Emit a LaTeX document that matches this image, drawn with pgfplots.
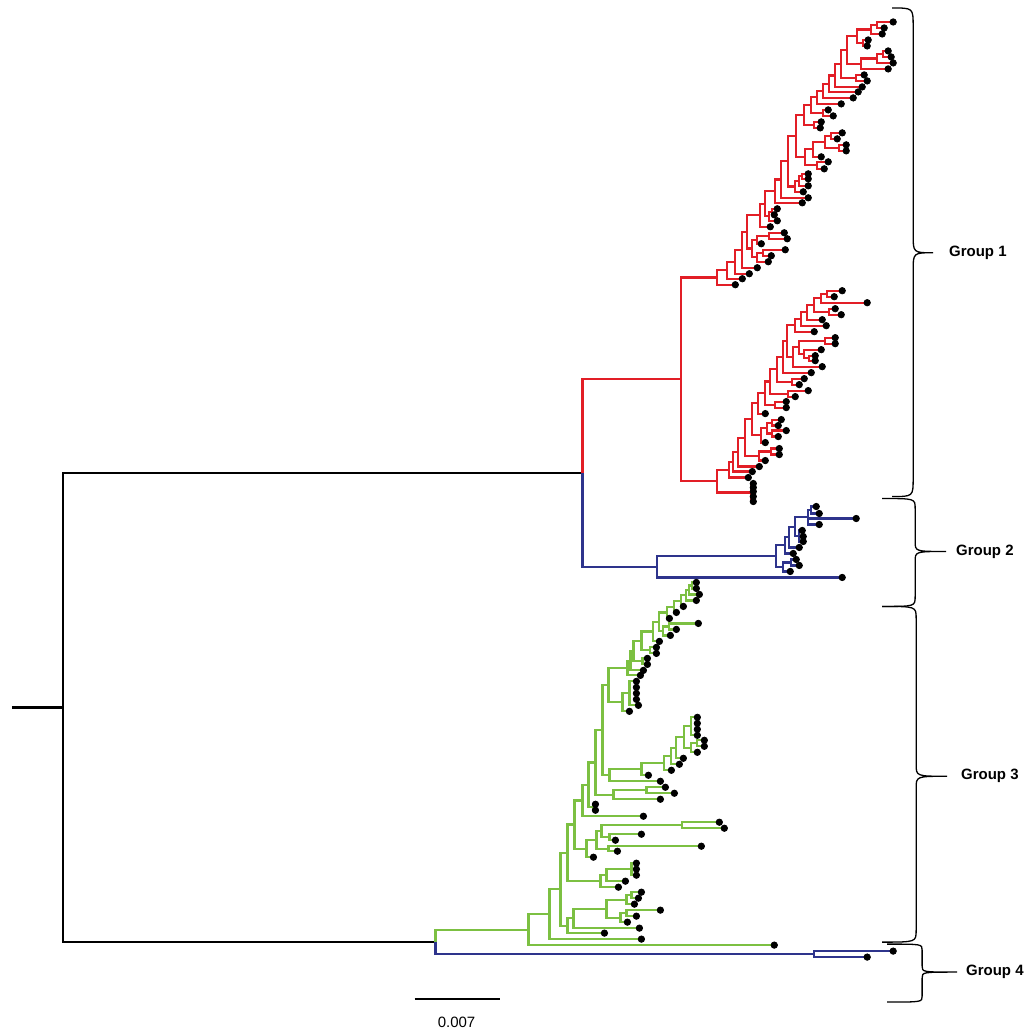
\documentclass[border=0pt]{standalone}
\usepackage{fontspec}
\setmainfont{Liberation Sans}
\usepackage{pgfplots}
\pgfplotsset{compat=1.18}
\definecolor{tred}{RGB}{226,30,38}
\definecolor{tblue}{RGB}{46,52,140}
\definecolor{tgreen}{RGB}{124,192,66}
\begin{document}
\begin{tikzpicture}
\begin{axis}[
  scale only axis, width=512pt, height=517pt,
  xmin=0, xmax=1024, ymin=0, ymax=1034, y dir=reverse,
  axis lines=none, clip=false, unbounded coords=jump,
]
\path (rel axis cs:0,0) rectangle (rel axis cs:1,1);
% ---------- black root ----------
\addplot[black, line width=1.15pt] table {
x y
12 708.15
63 708.15
nan nan
583 473.5
63 473.5
63 942.8
436 942.8
};
% ---------- red: group 1 ----------
\addplot[tred, line width=1.1pt] table {
x y
682 379.65
583 379.65
583 473.5
nan nan
718 277.75
682 277.75
682 481.55
718 481.55
nan nan
894 22
878 22
878 28
885 28
nan nan
878 25
872 25
872 34
883 34
nan nan
869 40
864 40
864 46
868 46
nan nan
872 29.5
858 29.5
858 43
864 43
nan nan
889 51
884 51
884 57
892 57
nan nan
884 54
878 54
878 63
894 63
nan nan
878 58.5
862 58.5
862 69
889 69
nan nan
858 36.25
848 36.25
848 63.75
862 63.75
nan nan
865 75
857 75
857 81
868 81
nan nan
848 50
842 50
842 78
857 78
nan nan
842 64
836 64
836 87
863 87
nan nan
836 75.5
830 75.5
830 92
859 92
nan nan
830 83.75
824 83.75
824 98
854 98
nan nan
824 90.9
818 90.9
818 104
842 104
nan nan
829 110
824 110
824 116
834 116
nan nan
818 97.45
812 97.45
812 113
824 113
nan nan
822 122
815 122
815 128
821 128
nan nan
812 105.2
805 105.2
805 125
815 125
nan nan
843 133
832 133
832 139
838 139
nan nan
847 145
840 145
840 151
847 151
nan nan
832 136
826 136
826 148
840 148
nan nan
826 142
814 142
814 157
822 157
nan nan
829 162
818 162
818 169
825 169
nan nan
814 149.5
806 149.5
806 165.5
818 165.5
nan nan
805 115.1
797 115.1
797 157.5
806 157.5
nan nan
809 174
803 174
803 179
809 179
nan nan
803 176.5
800 176.5
800 186
809 186
nan nan
800 181.25
796 181.25
796 192
804 192
nan nan
797 136.3
789 136.3
789 186.6
796 186.6
nan nan
789 161.5
782 161.5
782 198
809 198
nan nan
782 179.7
776 179.7
776 203
803 203
nan nan
778 209
773 209
773 215
775 215
nan nan
773 212
770 212
770 221
778 221
nan nan
776 191.4
766 191.4
766 216.5
770 216.5
nan nan
766 204
761 204
761 227
771 227
nan nan
785 233
770 233
770 239
788 239
nan nan
770 236
758 236
758 244
762 244
nan nan
786 250
764 250
764 256
772 256
nan nan
764 253
758 253
758 262
769 262
nan nan
758 240
753 240
753 257.5
758 257.5
nan nan
761 215.5
748 215.5
748 248.75
753 248.75
nan nan
748 232.1
743 232.1
743 268
758 268
nan nan
743 250
736 250
736 274
750 274
nan nan
736 262
728 262
728 279
743 279
nan nan
728 270.5
718 270.5
718 285
736 285
nan nan
843 291
828 291
828 297
835 297
nan nan
828 294
822 294
822 303
868 303
nan nan
836 309
830 309
830 315
842 315
nan nan
822 298.5
815 298.5
815 312
830 312
nan nan
815 305.25
808 305.25
808 320
823 320
nan nan
808 312.6
802 312.6
802 326
827 326
nan nan
802 319.3
796 319.3
796 332
815 332
nan nan
836 338
826 338
826 344
836 344
nan nan
816 356
810 356
810 361
816 361
nan nan
822 350
805 350
805 358.5
810 358.5
nan nan
826 341
800 341
800 354.25
805 354.25
nan nan
800 347.6
794 347.6
794 367
823 367
nan nan
796 325.65
788 325.65
788 357.3
794 357.3
nan nan
788 341.5
784 341.5
784 373
812 373
nan nan
805 379
793 379
793 385
800 385
nan nan
784 357.25
778 357.25
778 382
793 382
nan nan
809 391
789 391
789 397
796 397
nan nan
778 369.6
771 369.6
771 394
789 394
nan nan
787 402
776 402
776 408
787 408
nan nan
771 381.8
766 381.8
766 405
776 405
nan nan
766 393.4
759 393.4
759 414
766 414
nan nan
782 420
773 420
773 426
779 426
nan nan
787 431
773 431
773 437
779 437
nan nan
773 423
768 423
768 434
773 434
nan nan
768 428.5
762 428.5
762 443
766 443
nan nan
759 403.7
753 403.7
753 435.75
762 435.75
nan nan
780 449
772 449
772 455
780 455
nan nan
772 452
760 452
760 461
766 461
nan nan
753 419.7
746 419.7
746 456.5
760 456.5
nan nan
746 438.1
739 438.1
739 467
760 467
nan nan
739 452.55
734 452.55
734 472
753 472
nan nan
734 462.3
730 462.3
730 478
749 478
nan nan
754 484
752 484
752 502
754 502
nan nan
730 470.1
718 470.1
718 493
752 493
};
% ---------- blue: group 2 and group 4 ----------
\addplot[tblue, line width=1.1pt] table {
x y
583 473.5
583 567.3
658 567.3
nan nan
777 556.65
658 556.65
658 578
843 578
nan nan
817 507
812 507
812 514
820 514
nan nan
812 510.5
809 510.5
809 525
820 525
nan nan
809 519
857 519
nan nan
803 531
800 531
800 542
804 542
nan nan
809 517.75
796 517.75
796 536.5
800 536.5
nan nan
796 527.1
790 527.1
790 548
800 548
nan nan
790 537.6
786 537.6
786 554
794 554
nan nan
797 560
792 560
792 566
800 566
nan nan
792 563
784 563
784 572
791 572
nan nan
786 545.8
777 545.8
777 567.5
784 567.5
nan nan
436 942.8
436 955
815 955
nan nan
894 952
815 952
815 958
868 958
};
% ---------- green: group 3 ----------
\addplot[tgreen, line width=1.1pt] table {
x y
529 930.55
436 930.55
436 942.8
nan nan
550 915.1
529 915.1
529 946
775 946
nan nan
561 890.15
550 890.15
550 940
642 940
nan nan
568 853.7
561 853.7
561 926.6
568 926.6
nan nan
574 919.25
568 919.25
568 934
605 934
nan nan
607 909.5
574 909.5
574 929
640 929
nan nan
627 900.5
607 900.5
607 918.5
621 918.5
nan nan
627 914
621 914
621 923
628 923
nan nan
661 911
627 911
627 917
637 917
nan nan
632 896
627 896
627 905
635 905
nan nan
642 893
632 893
632 899
639 899
nan nan
575 825.35
568 825.35
568 882
601 882
nan nan
607 876
601 876
601 888
619 888
nan nan
632 870
607 870
607 882
626 882
nan nan
637 864
632 864
632 876
637 876
nan nan
583 801.3
575 801.3
575 849.4
587 849.4
nan nan
597 840.75
587 840.75
587 858
594 858
nan nan
602 832
597 832
597 849.5
609 849.5
nan nan
702 847
609 847
609 852
618 852
nan nan
683 826
602 826
602 838
610 838
nan nan
642 835
610 835
610 841
616 841
nan nan
720 823
683 823
683 829
725 829
nan nan
589 785.6
583 785.6
583 817
644 817
nan nan
596 763.2
589 763.2
589 808
594 808
nan nan
596 805
594 805
594 811
596 811
nan nan
603 730.9
596 730.9
596 795.5
614 795.5
nan nan
647 791
614 791
614 800
661 800
nan nan
666 788
647 788
647 794
675 794
nan nan
609 685.85
603 685.85
603 775.95
610 775.95
nan nan
642 769.9
610 769.9
610 782
661 782
nan nan
665 763.85
642 763.85
642 776
649 776
nan nan
672 756.7
665 756.7
665 771
672 771
nan nan
677 748.4
672 748.4
672 765
680 765
nan nan
685 737.75
677 737.75
677 759
684 759
nan nan
692 727
685 727
685 748.5
692 748.5
nan nan
698 744
692 744
692 753
698 753
nan nan
705 741
698 741
698 747
705 747
nan nan
698 718
692 718
692 736
698 736
nan nan
628 668.7
609 668.7
609 703
623 703
nan nan
630 694
623 694
623 712
630 712
nan nan
637 682
630 682
630 706
639 706
nan nan
631 661.4
628 661.4
628 676
641 676
nan nan
634 651.8
631 651.8
631 671
644 671
nan nan
642 641.6
634 641.6
634 662
643 662
nan nan
648 659
643 659
643 665
648 665
nan nan
654 632.15
642 632.15
642 651
651 651
nan nan
657 648
651 648
651 654
657 654
nan nan
660 622.3
654 622.3
654 642
660 642
nan nan
668 613.1
660 613.1
660 631.5
664 631.5
nan nan
670 627
664 627
664 636
671 636
nan nan
699 624
670 624
670 630
677 630
nan nan
675 607.2
668 607.2
668 619
670 619
nan nan
682 601.4
675 601.4
675 613
677 613
nan nan
687 595.75
682 595.75
682 607
684 607
nan nan
690 590.5
687 590.5
687 601
697 601
nan nan
693 586
690 586
690 595
700 595
nan nan
697 583
693 583
693 589
697 589
};
% ---------- leaf tips ----------
\addplot[only marks, mark=*, mark size=1.6pt, black] table {
x y
894 22
885 28
883 34
869 40
868 46
889 51
892 57
894 63
889 69
865 75
868 81
863 87
859 92
854 98
842 104
829 110
834 116
822 122
821 128
843 133
838 139
847 145
847 151
822 157
829 162
825 169
809 174
809 179
809 186
804 192
809 198
803 203
778 209
775 215
778 221
771 227
785 233
788 239
762 244
786 250
772 256
769 262
758 268
750 274
743 279
736 285
843 291
835 297
868 303
836 309
842 315
823 320
827 326
815 332
836 338
836 344
822 350
816 356
816 361
823 367
812 373
805 379
800 385
809 391
796 397
787 402
787 408
766 414
782 420
779 426
787 431
779 437
766 443
780 449
780 455
766 461
760 467
753 472
749 478
754 484
754 488
754 492
754 497
754 502
817 507
820 514
857 519
820 525
803 531
804 537
804 542
800 548
794 554
797 560
800 566
791 572
843 578
697 583
697 589
700 595
697 601
684 607
677 613
670 619
699 624
677 630
671 636
660 642
657 648
657 654
648 659
648 665
644 671
641 676
637 682
637 688
637 694
637 700
639 706
630 712
698 718
698 724
698 730
698 736
705 741
705 747
698 753
684 759
680 765
672 771
649 776
661 782
666 788
675 794
661 800
596 805
596 811
644 817
720 823
725 829
642 835
616 841
702 847
618 852
594 858
637 864
637 870
637 876
626 882
619 888
642 893
639 899
635 905
661 911
637 917
628 923
640 929
605 934
642 940
775 946
894 952
868 958
};
% ---------- scale bar ----------
\addplot[black, line width=0.9pt] coordinates {(415,1000) (500,1000)};
\node[font=\fontsize{7.5}{9}\selectfont] at (axis cs:457,1023) {0.007};
% ---------- group braces ----------
\draw[black, line width=0.65pt] (axis cs:893,8) .. controls (axis cs:914,8) .. (axis cs:914,26) -- (axis cs:914,235) .. controls (axis cs:914,253) .. (axis cs:934,253) .. controls (axis cs:914,253) .. (axis cs:914,271) -- (axis cs:914,479) .. controls (axis cs:914,497) .. (axis cs:893,497);
\draw[black, line width=0.65pt] (axis cs:883,499) .. controls (axis cs:916,499) .. (axis cs:916,509) -- (axis cs:916,542) .. controls (axis cs:916,552) .. (axis cs:947,552) .. controls (axis cs:916,552) .. (axis cs:916,562) -- (axis cs:916,597) .. controls (axis cs:916,607) .. (axis cs:883,607);
\draw[black, line width=0.65pt] (axis cs:883,607) .. controls (axis cs:917,607) .. (axis cs:917,619) -- (axis cs:917,765) .. controls (axis cs:917,777) .. (axis cs:948,777) .. controls (axis cs:917,777) .. (axis cs:917,789) -- (axis cs:917,931) .. controls (axis cs:917,943) .. (axis cs:883,943);
\draw[black, line width=0.65pt] (axis cs:888,945) .. controls (axis cs:923,945) .. (axis cs:923,951) -- (axis cs:923,967) .. controls (axis cs:923,973) .. (axis cs:958,973) .. controls (axis cs:923,973) .. (axis cs:923,979) -- (axis cs:923,997) .. controls (axis cs:923,1003) .. (axis cs:888,1003);
\node[anchor=west, font=\fontsize{7.5}{9}\selectfont\bfseries] at (axis cs:943,253) {Group 1};
\node[anchor=west, font=\fontsize{7.5}{9}\selectfont\bfseries] at (axis cs:950,552) {Group 2};
\node[anchor=west, font=\fontsize{7.5}{9}\selectfont\bfseries] at (axis cs:955,777) {Group 3};
\node[anchor=west, font=\fontsize{7.5}{9}\selectfont\bfseries] at (axis cs:960,973) {Group 4};
\end{axis}
\end{tikzpicture}
\end{document}
